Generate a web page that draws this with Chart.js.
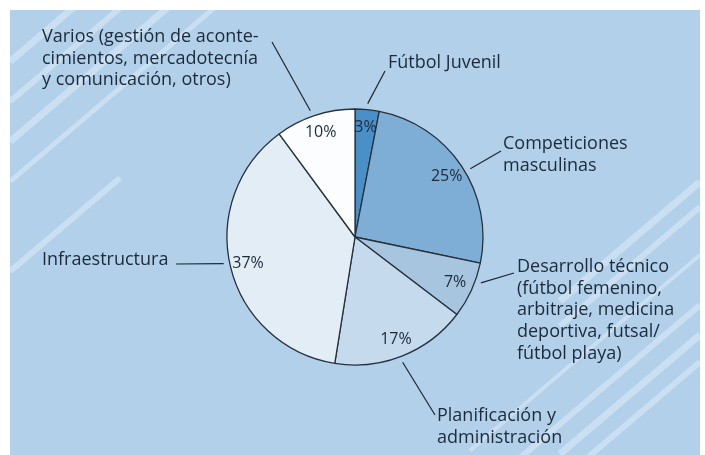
<!DOCTYPE html>
<html>
<head>
<meta charset="utf-8">
<script src="https://cdn.jsdelivr.net/npm/chart.js@4.4.0/dist/chart.umd.min.js"></script>
<style>
  html, body { margin: 0; padding: 0; background: #fff; }
  #wrap { width: 705px; height: 455px; }
</style>
</head>
<body>
<div id="wrap"><canvas id="budgetChart" width="705" height="455"></canvas></div>
<script>
// Data
const categories = ['Fútbol Juvenil', 'Competiciones masculinas', 'Desarrollo técnico', 'Planificación y administración', 'Infraestructura', 'Varios'];
const shares = [3, 25, 7, 17, 37, 10];
const sliceColors = ['#4b8fc7', '#7eaed6', '#a8c5e0', '#c5daed', '#e3edf6', '#fcfdff'];
const labelLines = [
  ['Fútbol Juvenil'],
  ['Competiciones', 'masculinas'],
  ['Desarrollo técnico', '(fútbol femenino,', 'arbitraje, medicina', 'deportiva, futsal/', 'fútbol playa)'],
  ['Planificación y', 'administración'],
  ['Infraestructura'],
  ['Varios (gestión de aconte-', 'cimientos, mercadotecnía', 'y comunicación, otros)']
];

// where each outside label sits: text x, first baseline, leader start, small angle nudge (deg)
const labelSpots = [
  { x: 388, y: 68, lx: 385, ly: 71, nudge: 0 },
  { x: 503, y: 149, lx: 501, ly: 151, nudge: 3 },
  { x: 517, y: 272, lx: 514, ly: 273, nudge: -4.5 },
  { x: 437, y: 421, lx: 435, ly: 415, nudge: 1 },
  { x: 42, y: 265, lx: 176, ly: 264, nudge: 2.2 },
  { x: 42, y: 42, lx: 272, ly: 42, nudge: -1.3 }
];

const textColor = '#1c2a3a';
const lineGap = 21.7;

// background panel with light diagonal stripes
const backdrop = {
  id: 'backdrop',
  beforeDraw(chart) {
    const ctx = chart.ctx;
    ctx.save();
    ctx.fillStyle = '#ffffff';
    ctx.fillRect(0, 0, chart.width, chart.height);
    ctx.fillStyle = '#b2d0ea';
    ctx.fillRect(10, 10, 690, 445);
    ctx.beginPath();
    ctx.rect(10, 10, 690, 445);
    ctx.clip();
    const k = 0.85;
    const stripes = [
      { c: 70, w: 7, x0: 10, x1: 90 },
      { c: 110, w: 6, x0: 10, x1: 130 },
      { c: 150, w: 7, x0: 10, x1: 170 },
      { c: 190, w: 5, x0: 10, x1: 215 },
      { c: 280, w: 6, x0: 10, x1: 120 },
      { c: 777, w: 7, x0: 560, x1: 700 },
      { c: 802, w: 6, x0: 560, x1: 700 },
      { c: 850, w: 4, x0: 470, x1: 700 },
      { c: 900, w: 6, x0: 500, x1: 700 },
      { c: 930, w: 7, x0: 560, x1: 700 },
      { c: 957, w: 6, x0: 560, x1: 700 }
    ];
    ctx.strokeStyle = 'rgba(225,238,250,0.5)';
    ctx.lineCap = 'butt';
    stripes.forEach(s => {
      ctx.lineWidth = s.w;
      ctx.beginPath();
      ctx.moveTo(s.x0, s.c - k * s.x0);
      ctx.lineTo(s.x1, s.c - k * s.x1);
      ctx.stroke();
    });
    ctx.restore();
  }
};

// percent labels inside slices and outside labels with leader lines
const pieLabels = {
  id: 'pieLabels',
  afterDatasetsDraw(chart) {
    const ctx = chart.ctx;
    const arcs = chart.getDatasetMeta(0).data;
    ctx.save();
    arcs.forEach((arc, i) => {
      const mid = (arc.startAngle + arc.endAngle) / 2;
      const r = arc.outerRadius;
      // percent
      ctx.fillStyle = textColor;
      ctx.font = '16px "Open Sans"';
      ctx.textAlign = 'center';
      ctx.textBaseline = 'middle';
      ctx.fillText(shares[i] + '%', arc.x + Math.cos(mid) * r * 0.86, arc.y + Math.sin(mid) * r * 0.86);
      // leader
      const spot = labelSpots[i];
      const a = mid + spot.nudge * Math.PI / 180;
      ctx.strokeStyle = '#1e2630';
      ctx.lineWidth = 1.2;
      ctx.beginPath();
      ctx.moveTo(spot.lx, spot.ly);
      ctx.lineTo(arc.x + Math.cos(a) * (r + 6), arc.y + Math.sin(a) * (r + 6));
      ctx.stroke();
      // text
      ctx.font = '18px "Open Sans"';
      ctx.textAlign = 'left';
      ctx.textBaseline = 'alphabetic';
      labelLines[i].forEach((t, j) => ctx.fillText(t, spot.x, spot.y + j * lineGap));
    });
    ctx.restore();
  }
};

new Chart(document.getElementById('budgetChart'), {
  type: 'pie',
  data: {
    labels: categories,
    datasets: [{
      data: shares,
      backgroundColor: sliceColors,
      borderColor: '#26313d',
      borderWidth: 1.3
    }]
  },
  options: {
    responsive: false,
    animation: false,
    radius: 128,
    layout: { padding: { left: 5, right: 0, top: 19, bottom: 0 } },
    plugins: {
      legend: { display: false },
      tooltip: { enabled: false }
    }
  },
  plugins: [backdrop, pieLabels]
});
</script>
</body>
</html>
